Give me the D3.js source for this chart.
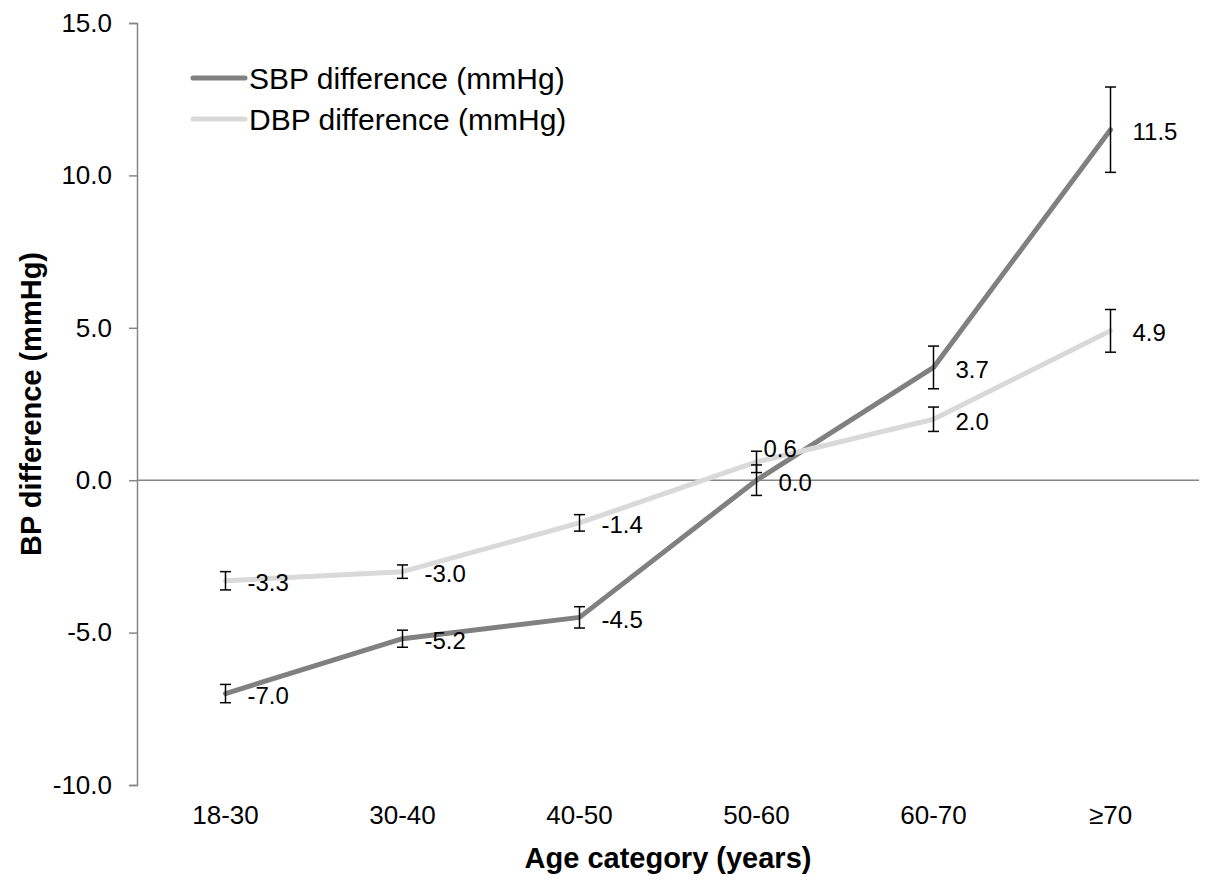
<!DOCTYPE html>
<html lang="en">
<head>
  <meta charset="UTF-8">
  <title>BP difference by age category</title>
  <script src="https://cdnjs.cloudflare.com/ajax/libs/d3/7.8.5/d3.min.js"></script>
  <style>
    * {
      margin: 0;
      padding: 0;
    }
    html, body {
      background-color: #ffffff;
    }
    svg text {
      font-family: "Liberation Sans", Arial, sans-serif;
      fill: #000;
    }
  </style>
</head>
<body>
  <div id="chart"></div>
<script>
  // data
  const categories = ['18-30', '30-40', '40-50', '50-60', '60-70', '≥70']
  const sbpValues = [-7.0, -5.2, -4.5, 0.0, 3.7, 11.5]
  const dbpValues = [-3.3, -3.0, -1.4, 0.6, 2.0, 4.9]
  const sbpErrors = [0.3, 0.28, 0.35, 0.5, 0.7, 1.4]
  const dbpErrors = [0.3, 0.22, 0.27, 0.35, 0.4, 0.7]
  const yTicks = [-10, -5, 0, 5, 10, 15]
  const seriesNames = ['SBP difference (mmHg)', 'DBP difference (mmHg)']

  const W = 1205, H = 882
  const plotLeft = 137, plotRight = 1199, plotTop = 23, plotBottom = 785

  const svg = d3.select('#chart').append('svg')
    .attr('width', W)
    .attr('height', H)

  const x = d3.scaleBand().domain(categories).range([plotLeft, plotRight]).padding(0)
  const y = d3.scaleLinear().domain([-10, 15]).range([plotBottom, plotTop])
  const cx = c => x(c) + x.bandwidth() / 2

  // y axis
  const yAxis = svg.append('g')
    .attr('transform', `translate(${plotLeft},0)`)
    .call(d3.axisLeft(y).tickValues(yTicks).tickSize(8).tickPadding(17)
      .tickFormat(d => d.toFixed(1)))
  yAxis.select('.domain').attr('stroke', '#868686').attr('stroke-width', 1.5)
  yAxis.selectAll('.tick line').attr('stroke', '#868686').attr('stroke-width', 1.5)
  yAxis.selectAll('.tick text').attr('font-size', 26).attr('fill', '#000')
    .attr('font-family', '"Liberation Sans", Arial, sans-serif')

  // category labels, no axis line (the zero line acts as axis)
  const xAxis = svg.append('g')
    .attr('transform', `translate(0,${plotBottom})`)
    .call(d3.axisBottom(x).tickSize(0).tickPadding(21))
  xAxis.select('.domain').remove()
  xAxis.selectAll('.tick text').attr('font-size', 26).attr('fill', '#000')
    .attr('font-family', '"Liberation Sans", Arial, sans-serif')

  // zero line
  svg.append('line')
    .attr('x1', plotLeft).attr('x2', plotRight)
    .attr('y1', y(0)).attr('y2', y(0))
    .attr('stroke', '#868686')
    .attr('stroke-width', 1.5)

  // axis titles
  svg.append('text')
    .attr('transform', `translate(41,${(plotTop + plotBottom) / 2}) rotate(-90)`)
    .attr('text-anchor', 'middle')
    .attr('font-size', 29)
    .attr('font-weight', 'bold')
    .text('BP difference (mmHg)')

  svg.append('text')
    .attr('x', (plotLeft + plotRight) / 2)
    .attr('y', 868)
    .attr('text-anchor', 'middle')
    .attr('font-size', 29)
    .attr('font-weight', 'bold')
    .text('Age category (years)')

  const series = [
    { name: seriesNames[0], values: sbpValues, errors: sbpErrors, color: '#808080' },
    { name: seriesNames[1], values: dbpValues, errors: dbpErrors, color: '#d9d9d9' }
  ]

  const line = d3.line()
    .x((d, i) => cx(categories[i]))
    .y(d => y(d))

  // draw SBP first, DBP sits on top
  series.forEach(s => {
    svg.append('path')
      .datum(s.values)
      .attr('fill', 'none')
      .attr('stroke', s.color)
      .attr('stroke-width', 5)
      .attr('stroke-linejoin', 'round')
      .attr('stroke-linecap', 'round')
      .attr('d', line)
  })

  // error bars
  series.forEach(s => {
    const g = svg.append('g')
    s.values.forEach((v, i) => {
      const px = cx(categories[i])
      const y1 = y(v + s.errors[i]), y2 = y(v - s.errors[i])
      g.append('line').attr('x1', px).attr('x2', px).attr('y1', y1).attr('y2', y2)
      g.append('line').attr('x1', px - 5.5).attr('x2', px + 5.5).attr('y1', y1).attr('y2', y1)
      g.append('line').attr('x1', px - 5.5).attr('x2', px + 5.5).attr('y1', y2).attr('y2', y2)
    })
    g.selectAll('line').attr('stroke', '#000').attr('stroke-width', 1.5)
  })

  // value labels
  series.forEach((s, si) => {
    svg.append('g').selectAll('text')
      .data(s.values)
      .join('text')
      .attr('x', (d, i) => cx(categories[i]) + (si === 1 && i === 3 ? 7 : 22))
      .attr('y', (d, i) => y(d) + (si === 1 && i === 3 ? -13 : 2))
      .attr('dominant-baseline', 'central')
      .attr('font-size', 24)
      .text(d => d.toFixed(1))
  })

  // legend
  const legend = svg.append('g')
  series.forEach((s, i) => {
    const ly = 78 + i * 41
    legend.append('line')
      .attr('x1', 193).attr('x2', 245)
      .attr('y1', ly).attr('y2', ly)
      .attr('stroke', s.color)
      .attr('stroke-width', 5)
      .attr('stroke-linecap', 'round')
    legend.append('text')
      .attr('x', 249)
      .attr('y', ly)
      .attr('dominant-baseline', 'central')
      .attr('font-size', 30)
      .text(s.name)
  })
</script>
</body>
</html>
